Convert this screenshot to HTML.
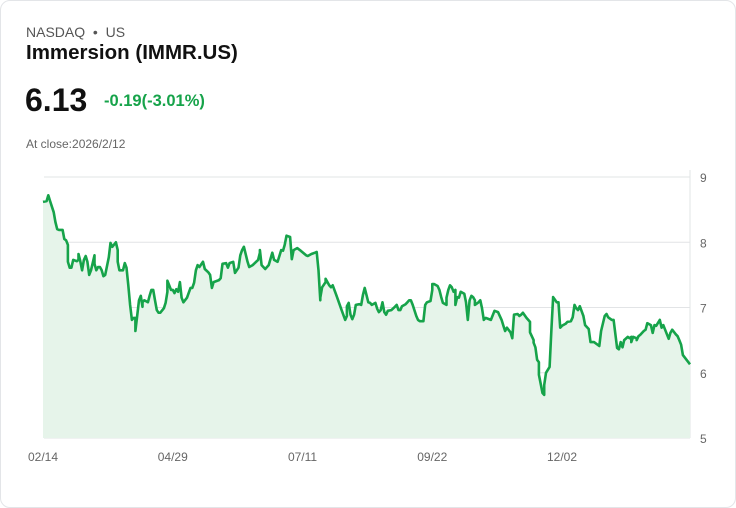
<!DOCTYPE html>
<html><head><meta charset="utf-8"><style>
body{margin:0;background:#fff;font-family:"Liberation Sans",sans-serif;}
.card{position:absolute;left:0;top:0;width:734px;height:506px;border:1px solid #e3e5e8;border-radius:10px;background:#fff;}
.t{position:absolute;white-space:nowrap;}
</style></head><body>
<div class="card">
<div class="t" style="left:25px;top:23px;font-size:14px;color:#555;">NASDAQ &nbsp;•&nbsp; US</div>
<div class="t" style="left:25px;top:40px;font-size:20.5px;font-weight:bold;color:#111;">Immersion (IMMR.US)</div>
<div class="t" style="left:24px;top:81px;font-size:32px;font-weight:bold;color:#111;">6.13</div>
<div class="t" style="left:103px;top:91px;font-size:16.5px;font-weight:bold;color:#16a34a;">-0.19(-3.01%)</div>
<div class="t" style="left:25px;top:136px;font-size:12px;color:#666;">At close:2026/2/12</div>
<svg id="chart" width="736" height="508" style="position:absolute;left:-1px;top:-1px"></svg>
</div>
<script>
const yTicks=[5,6,7,8,9];
const xLabels=["02/14","04/29","07/11","09/22","12/02"];
const xLabelDays=[0,73,146,219,292];
const days=[0,2,3,4,6,7,8,9,11,12,13,14,14,15,16,17,19,20,20,21,22,23,24,25,26,27,29,29,30,31,32,33,34,35,37,38,39,41,42,42,43,45,46,47,48,49,50,51,52,52,54,55,56,56,57,59,60,61,62,63,64,65,66,68,69,70,70,72,73,74,75,76,77,78,79,81,83,84,85,86,87,88,90,91,93,94,95,96,99,100,101,103,104,105,107,108,110,111,112,113,115,116,118,121,122,
122,123,125,127,129,130,132,134,135,136,137,139,140,141,143,145,148,149,151,153,154,155,156,156,157,159,159,161,162,163,165,167,168,170,171,171,172,173,174,175,176,178,179,180,181,182,183,184,185,187,188,189,190,191,192,193,194,196,198,199,200,201,202,204,205,206,207,208,210,211,212,214,215,216,218,219,219,220,222,223,224,225,227,227,228,229,230,231,232,232,233,234,235,237,238,239,240,241,242,243,243,245,246,247,248,249,
252,254,256,258,259,260,261,263,264,265,267,268,269,270,272,274,274,276,276,277,278,279,279,281,282,282,283,285,286,287,287,289,290,290,291,292,294,295,297,298,299,300,301,302,304,305,307,308,309,310,313,314,316,317,318,320,321,323,324,325,326,327,329,330,331,331,332,334,334,335,336,338,339,340,342,343,344,345,347,348,349,350,352,353,354,356,357,358,359,360,364];
const prices=[8.62,8.63,8.72,8.63,8.46,8.31,8.20,8.19,8.19,8.05,8.03,7.96,7.70,7.61,7.61,7.73,7.71,7.73,7.82,7.71,7.57,7.73,7.79,7.70,7.50,7.57,7.80,7.67,7.57,7.62,7.62,7.57,7.48,7.50,7.77,7.99,7.93,8.00,7.88,7.70,7.57,7.57,7.68,7.61,7.34,7.04,6.81,6.84,6.84,6.64,7.11,7.18,7.01,7.08,7.11,7.08,7.18,7.27,7.27,7.11,6.96,6.92,6.92,6.99,7.07,7.24,7.41,7.27,7.27,7.22,7.28,7.24,7.39,7.15,7.08,7.15,7.30,7.30,7.38,7.57,7.65,7.62,7.70,7.59,7.54,7.50,7.30,7.39,7.42,7.45,7.67,7.68,7.61,7.68,7.70,7.53,7.61,7.80,7.88,7.93,7.71,7.62,7.65,7.73,7.84,
7.88,7.65,7.59,7.65,7.84,7.73,7.70,7.88,7.87,7.96,8.10,8.08,7.74,7.88,7.91,7.87,7.80,7.79,7.82,7.84,7.85,7.57,7.11,7.15,7.31,7.39,7.44,7.34,7.31,7.34,7.19,7.04,6.96,6.81,6.87,7.02,7.07,6.89,6.82,6.89,7.04,7.05,7.04,7.19,7.30,7.19,7.08,7.07,7.04,7.07,6.98,6.93,6.96,7.08,6.93,6.89,6.95,6.96,7.01,7.04,6.96,6.96,7.02,7.05,7.08,7.11,7.11,7.04,6.87,6.81,6.79,6.79,7.04,7.08,7.10,7.27,7.36,7.36,7.33,7.27,7.16,7.07,7.04,7.15,7.27,7.34,7.31,7.24,7.27,7.04,7.16,7.15,7.24,7.21,7.08,6.81,7.11,7.18,7.16,7.11,7.04,7.08,7.11,6.99,6.81,6.84,
6.81,6.95,6.93,6.81,6.72,6.64,6.69,6.62,6.53,6.89,6.90,6.87,6.89,6.92,6.84,6.78,6.62,6.50,6.46,6.39,6.20,6.16,5.97,5.69,5.66,5.81,6.00,6.09,6.66,7.15,7.16,7.08,7.08,7.07,6.69,6.72,6.75,6.78,6.79,6.85,7.04,6.99,6.96,7.02,6.87,6.73,6.67,6.47,6.47,6.47,6.41,6.64,6.87,6.90,6.85,6.81,6.81,6.38,6.36,6.47,6.39,6.50,6.55,6.53,6.55,6.47,6.55,6.53,6.50,6.56,6.58,6.64,6.66,6.76,6.73,6.61,6.73,6.72,6.81,6.69,6.73,6.66,6.52,6.61,6.66,6.59,6.56,6.50,6.43,6.27,6.13];
const X0=43,X1=690,Y5=438,Y9=177,DMAX=364;
function xs(dd){return X0+(X1-X0)*dd/DMAX;}
function ys(v){return Y5-(v-5)*(Y5-Y9)/4;}
const svg=document.getElementById('chart');
const NS='http://www.w3.org/2000/svg';
function mk(t,a){const e=document.createElementNS(NS,t);for(const k in a)e.setAttribute(k,a[k]);svg.appendChild(e);return e;}
yTicks.forEach(v=>{
 const l=mk('line',{x1:44,x2:X1,y1:ys(v),y2:ys(v),stroke:'#e2e4e6','stroke-width':1});
 
 
 const t=mk('text',{x:700,y:ys(v)+5,'font-size':12,fill:'#666','font-family':'Liberation Sans, sans-serif'});
 t.textContent=v;
 
 
});
const ax=mk('line',{x1:X1,x2:X1,y1:170,y2:Y5,stroke:'#e2e4e6','stroke-width':1});


let d=prices.map((v,i)=>(i?'L':'M')+xs(days[i]).toFixed(1)+','+ys(v).toFixed(1)).join('');
const area=mk('path',{d:d+'L'+X1+','+Y5+'L'+X0+','+Y5+'Z',fill:'#e6f4ea'});


const line=mk('path',{d:d,fill:'none',stroke:'#16a34a','stroke-width':2.6,'stroke-linejoin':'round'});


xLabels.forEach((s,k)=>{
 const t=mk('text',{x:xs(xLabelDays[k]),y:461,'font-size':12,fill:'#666','text-anchor':'middle','font-family':'Liberation Sans, sans-serif'});
 t.textContent=s;
 
 
});
</script>
</body></html>
